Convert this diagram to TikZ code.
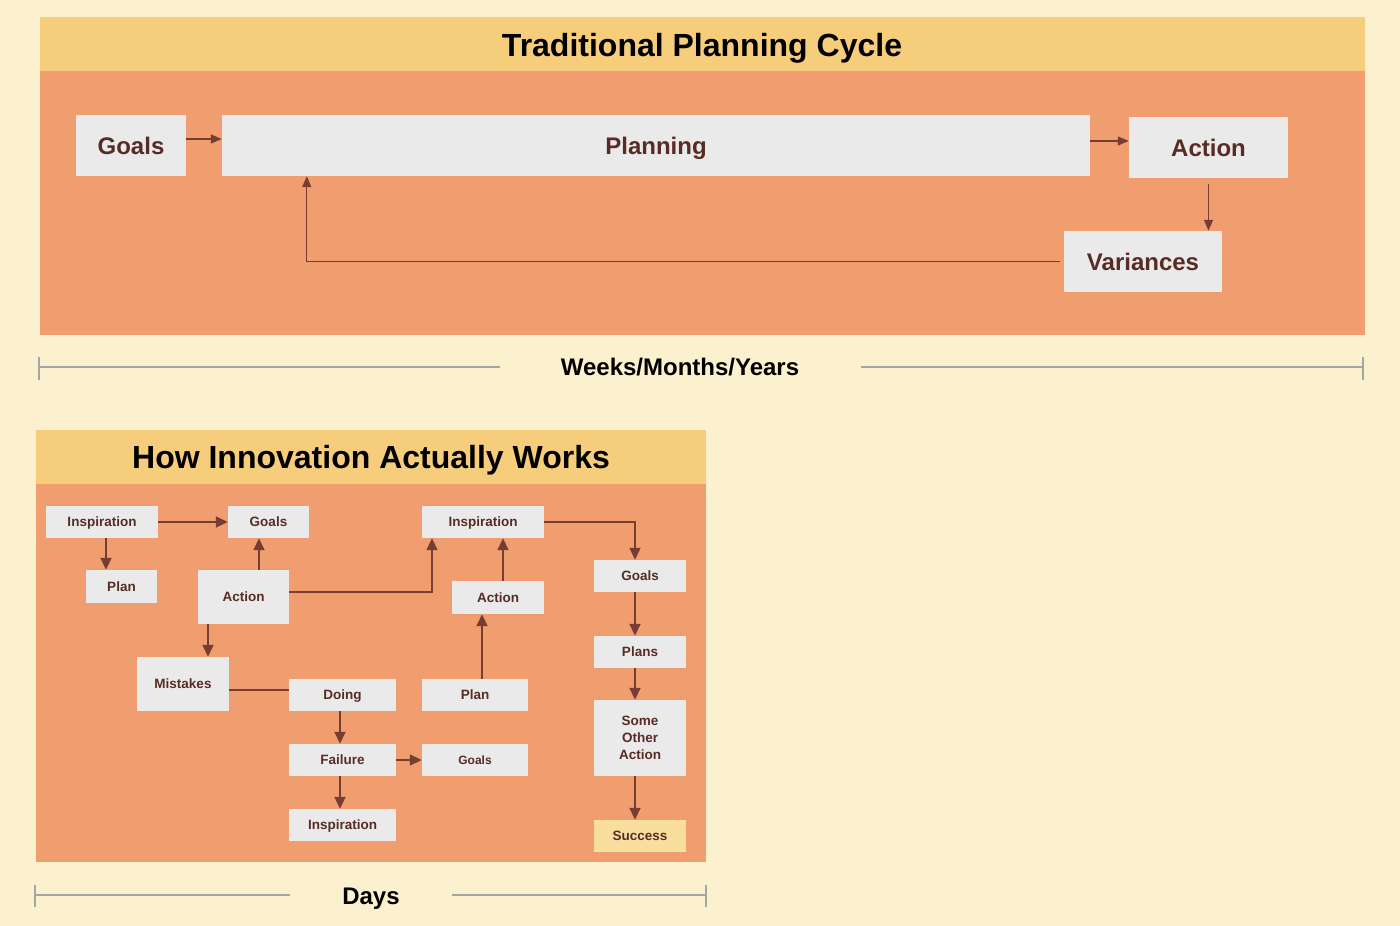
\documentclass[tikz,border=0pt]{standalone}
\usepackage{fontspec}
\setmainfont{Liberation Sans}
\usepackage{tikz}
\usetikzlibrary{positioning,arrows.meta}

\definecolor{paper}{RGB}{252,241,206}
\definecolor{head}{RGB}{246,205,123}
\definecolor{body}{RGB}{240,158,111}
\definecolor{boxfill}{RGB}{234,234,234}
\definecolor{ink}{RGB}{88,44,36}
\definecolor{wire}{RGB}{118,62,50}
\definecolor{ruler}{RGB}{165,165,165}
\definecolor{win}{RGB}{248,223,160}

\tikzset{
  bigbox/.style={fill=boxfill, text=ink, inner sep=0pt, text height=17.2pt, text depth=0pt, font=\fontsize{24}{26}\selectfont\bfseries},
  smallbox/.style={fill=boxfill, text=ink, inner sep=0pt, text height=9.7pt, text depth=0pt, font=\fontsize{13.5}{17}\selectfont\bfseries},
  tallbox/.style={fill=boxfill, text=ink, inner sep=0pt, align=center, font=\fontsize{13.5}{17}\selectfont\bfseries},
  bigarr/.style={draw=wire, line width=1.3pt, -{Triangle[length=11pt,width=9pt]}},
  arr/.style={draw=wire, line width=1.6pt, -{Triangle[length=12pt,width=11pt]}},
  rulerline/.style={draw=ruler, line width=1.2pt},
  title/.style={text=black, text height=22.9pt, text depth=0pt, font=\fontsize{32}{34}\selectfont\bfseries},
  span/.style={text=black, text height=17.2pt, text depth=0pt, font=\fontsize{24}{26}\selectfont\bfseries}
}

\begin{document}
\begin{tikzpicture}[x=1pt, y=-1pt]
	\fill[paper] (0,0) rectangle (1400,926);
	\useasboundingbox (0,0) rectangle (1400,926);

	% traditional planning
	\fill[head] (40,17) rectangle (1365,71);
	\fill[body] (40,71) rectangle (1365,335);
	\node[title] (title1) at (702,45) {Traditional Planning Cycle};

	\node[bigbox, minimum width=110pt, minimum height=61pt] (goals) at (131,145.5) {Goals};
	\node[bigbox, minimum width=868pt, minimum height=61pt] (planning) at (656,145.5) {Planning};
	\node[bigbox, minimum width=159pt, minimum height=61pt] (action) at (1208.5,147.5) {Action};
	\node[bigbox, minimum width=158pt, minimum height=61pt] (variances) at (1143,261.5) {Variances};

	\draw[bigarr] ([yshift=6.5pt]goals.east) -- ([yshift=6.5pt]goals.east -| planning.west);
	\draw[bigarr] ([yshift=4.5pt]planning.east) -- ([yshift=4.5pt]planning.east -| action.west);
	\draw[bigarr] ([yshift=-6pt]action.south) -- (action.south |- variances.north);
	\draw[bigarr] ([xshift=-4pt]variances.west) -| ([xshift=85pt]planning.south west);

	% time span
	\node[span] (weeks) at (680,367) {Weeks/Months/Years};
	\coordinate (wl) at (39,367);
	\coordinate (wr) at (1363,367);
	\draw[rulerline] (wl) -- ([xshift=-57pt]weeks.west);
	\draw[rulerline] ([xshift=58pt]weeks.east) -- (wr);
	\draw[rulerline] ([yshift=10pt]wl) -- ([yshift=-13pt]wl);
	\draw[rulerline] ([yshift=10pt]wr) -- ([yshift=-13pt]wr);

	% innovation
	\fill[head] (36,430) rectangle (706,484);
	\fill[body] (36,484) rectangle (706,862);
	\node[title] (title2) at (371,457) {How Innovation Actually Works};

	\node[smallbox, minimum width=112pt, minimum height=32pt] (insp1) at (102,522) {Inspiration};
	\node[smallbox, minimum width=81pt, minimum height=32pt] (goals1) at (268.5,522) {Goals};
	\node[smallbox, minimum width=71pt, minimum height=33pt] (plan1) at (121.5,586.5) {Plan};
	\node[smallbox, minimum width=91pt, minimum height=54pt] (action1) at (243.5,597) {Action};
	\node[smallbox, minimum width=92pt, minimum height=54pt] (mistakes) at (183,684) {Mistakes};
	\node[smallbox, minimum width=107pt, minimum height=32pt] (doing) at (342.5,695) {Doing};
	\node[smallbox, minimum width=106pt, minimum height=32pt] (plan2) at (475,695) {Plan};
	\node[smallbox, minimum width=107pt, minimum height=32pt] (failure) at (342.5,760) {Failure};
	\node[smallbox, minimum width=106pt, minimum height=32pt, text height=8.6pt, font=\fontsize{12}{14}\selectfont\bfseries] (goals3) at (475,760) {Goals};
	\node[smallbox, minimum width=107pt, minimum height=32pt] (insp3) at (342.5,825) {Inspiration};
	\node[smallbox, minimum width=122pt, minimum height=32pt] (insp2) at (483,522) {Inspiration};
	\node[smallbox, minimum width=92pt, minimum height=33pt] (action2) at (498,597.5) {Action};
	\node[smallbox, minimum width=92pt, minimum height=32pt] (goals2) at (640,576) {Goals};
	\node[smallbox, minimum width=92pt, minimum height=32pt] (plans) at (640,652) {Plans};
	\node[tallbox, minimum width=92pt, minimum height=76pt] (soa) at (640,738) {Some\\Other\\Action};
	\node[smallbox, fill=win, minimum width=92pt, minimum height=32pt] (success) at (640,836) {Success};

	\draw[arr] (insp1.east) -- (goals1.west);
	\draw[arr] ([xshift=4pt]insp1.south) -- ([xshift=4pt]insp1.south |- plan1.north);
	\draw[arr] ([xshift=-9.5pt]goals1.south |- action1.north) -- ([xshift=-9.5pt]goals1.south);
	\draw[arr] ([xshift=-35.5pt]action1.south) -- ([xshift=-35.5pt]action1.south |- mistakes.north);
	\draw[arr] ([yshift=5pt]action1.east) -| ([xshift=-51pt]insp2.south);
	\draw[wire, line width=1.6pt] ([yshift=-6pt]mistakes.east) -- ([yshift=-6pt]mistakes.east -| doing.west);
	\draw[arr] ([xshift=-2.5pt]doing.south) -- ([xshift=-2.5pt]failure.north);
	\draw[arr] (failure.east) -- (goals3.west);
	\draw[arr] ([xshift=-2.5pt]failure.south) -- ([xshift=-2.5pt]insp3.north);
	\draw[arr] ([xshift=7pt]plan2.north) -- ([xshift=7pt]plan2.north |- action2.south);
	\draw[arr] ([xshift=5pt]action2.north) -- ([xshift=5pt]action2.north |- insp2.south);
	\draw[arr] (insp2.east) -| ([xshift=-5pt]goals2.north);
	\draw[arr] ([xshift=-5pt]goals2.south) -- ([xshift=-5pt]plans.north);
	\draw[arr] ([xshift=-5pt]plans.south) -- ([xshift=-5pt]soa.north);
	\draw[arr] ([xshift=-5pt]soa.south) -- ([xshift=-5pt]success.north);

	% time span
	\node[span] (days) at (371,896) {Days};
	\coordinate (dl) at (35,895);
	\coordinate (dr) at (706,895);
	\draw[rulerline] (dl) -- (290,895);
	\draw[rulerline] (452,895) -- (dr);
	\draw[rulerline] ([yshift=10pt]dl) -- ([yshift=-12pt]dl);
	\draw[rulerline] ([yshift=10pt]dr) -- ([yshift=-12pt]dr);
\end{tikzpicture}
\end{document}
